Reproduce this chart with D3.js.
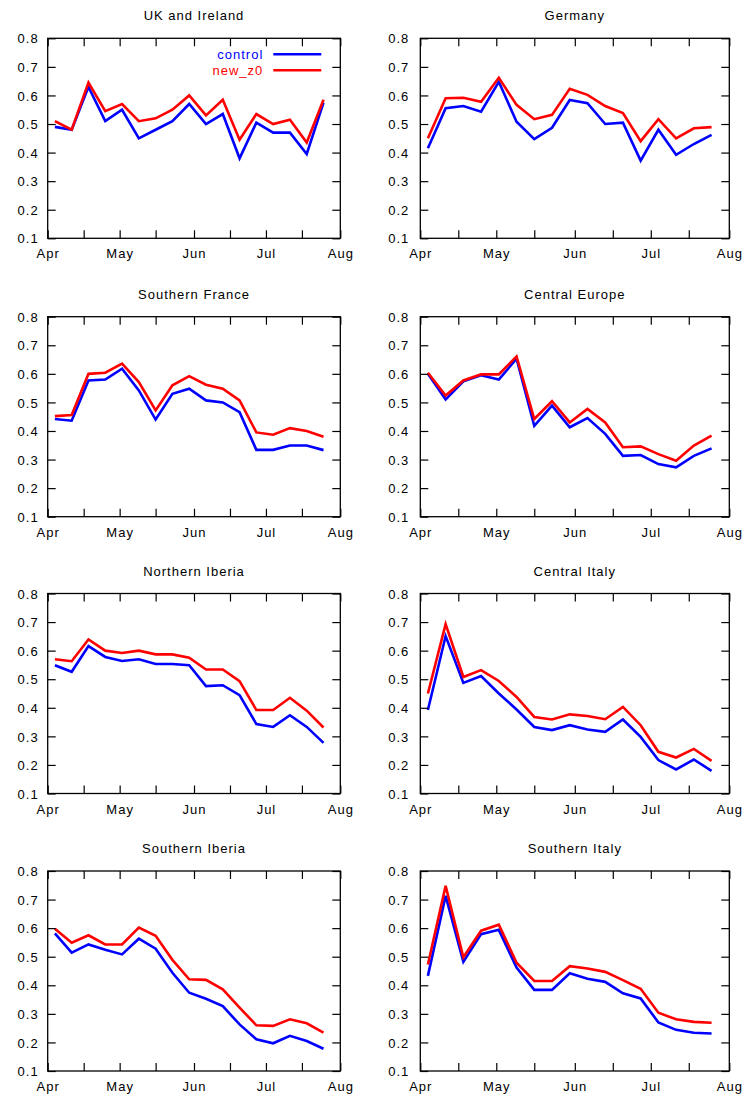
<!DOCTYPE html>
<html>
<head>
<meta charset="utf-8">
<script src="https://cdn.jsdelivr.net/npm/d3@7"></script>
<style>
  html, body { margin: 0; padding: 0; background: #fff; }
  svg text { font-family: "Liberation Sans", Arial, Helvetica, sans-serif; font-size: 13px; letter-spacing: 1px; }
</style>
</head>
<body>
<svg id="chart" width="742" height="1094"></svg>
<script>
// Weekly sample dates (month-day)
const weekDates = ["04-04","04-11","04-18","04-25","05-02","05-09","05-16","05-23","05-30",
                   "06-06","06-13","06-20","06-27","07-04","07-11","07-18","07-25"];

const yTickValues = [0.1, 0.2, 0.3, 0.4, 0.5, 0.6, 0.7, 0.8];
const monthLabels = ["Apr", "May", "Jun", "Jul", "Aug"];
const seriesNames = ["control", "new_z0"];

// Region time series
const ukControl  = [0.49,0.48,0.63,0.51,0.55,0.45,0.48,0.51,0.57,0.50,0.535,0.38,0.505,0.47,0.47,0.395,0.575];
const ukNewZ0    = [0.51,0.48,0.645,0.545,0.57,0.51,0.52,0.55,0.60,0.53,0.585,0.445,0.535,0.50,0.515,0.435,0.585];

const deControl  = [0.415,0.555,0.563,0.543,0.648,0.508,0.447,0.487,0.584,0.573,0.50,0.505,0.372,0.48,0.392,0.43,0.462];
const deNewZ0    = [0.45,0.59,0.592,0.578,0.662,0.567,0.517,0.532,0.623,0.602,0.563,0.538,0.44,0.517,0.45,0.485,0.489];

const sfControl  = [0.442,0.436,0.577,0.58,0.618,0.542,0.44,0.53,0.548,0.507,0.50,0.466,0.334,0.334,0.349,0.349,0.333];
const sfNewZ0    = [0.452,0.456,0.60,0.604,0.636,0.571,0.472,0.56,0.592,0.562,0.548,0.507,0.395,0.387,0.41,0.40,0.38];

const ceControl  = [0.60,0.51,0.574,0.595,0.58,0.653,0.418,0.489,0.413,0.445,0.39,0.313,0.316,0.284,0.273,0.313,0.339];
const ceNewZ0    = [0.604,0.524,0.577,0.598,0.598,0.661,0.442,0.504,0.43,0.477,0.43,0.343,0.346,0.319,0.296,0.349,0.384];

const niControl  = [0.549,0.526,0.616,0.578,0.564,0.57,0.553,0.553,0.549,0.476,0.479,0.444,0.343,0.333,0.374,0.333,0.277];
const niNewZ0    = [0.57,0.563,0.639,0.60,0.592,0.60,0.587,0.587,0.575,0.534,0.534,0.493,0.392,0.392,0.435,0.39,0.331];

const ciControl  = [0.392,0.651,0.487,0.511,0.45,0.394,0.333,0.322,0.339,0.324,0.316,0.359,0.298,0.217,0.184,0.219,0.179];
const ciNewZ0    = [0.45,0.693,0.508,0.532,0.494,0.438,0.368,0.359,0.377,0.371,0.36,0.403,0.339,0.246,0.226,0.256,0.214];

const siberControl = [0.582,0.514,0.543,0.524,0.508,0.563,0.528,0.444,0.374,0.353,0.327,0.263,0.211,0.197,0.223,0.205,0.178];
const siberNewZ0   = [0.598,0.549,0.575,0.543,0.543,0.602,0.573,0.489,0.421,0.419,0.386,0.322,0.26,0.258,0.281,0.267,0.234];

const sitControl = [0.433,0.713,0.482,0.579,0.594,0.462,0.384,0.384,0.442,0.423,0.412,0.372,0.354,0.27,0.244,0.234,0.231];
const sitNewZ0   = [0.473,0.748,0.498,0.591,0.612,0.479,0.415,0.415,0.467,0.459,0.447,0.418,0.388,0.304,0.281,0.272,0.269];

const regionTitles = ["UK and Ireland", "Germany", "Southern France", "Central Europe",
                      "Northern Iberia", "Central Italy", "Southern Iberia", "Southern Italy"];
const regionControl = [ukControl, deControl, sfControl, ceControl, niControl, ciControl, siberControl, sitControl];
const regionNewZ0   = [ukNewZ0, deNewZ0, sfNewZ0, ceNewZ0, niNewZ0, ciNewZ0, siberNewZ0, sitNewZ0];

// Layout
const colX = [[47.7, 340.3], [420.3, 729.3]];
const rowTop = [38.3, 316.7, 593.5, 871];
const plotH = 200;
const colors = { control: "#0000ff", new_z0: "#ff0000" };
const tickLen = 8;

const year = 2010;
const parseDate = d => new Date(Date.UTC(year, +d.slice(0, 2) - 1, +d.slice(3, 5)));
const dates = weekDates.map(parseDate);
const xStart = new Date(Date.UTC(year, 3, 1));
const xEnd = new Date(Date.UTC(year, 7, 1));
const xTickValues = [];
for (let m = 3; m <= 7; m++) {
  xTickValues.push(new Date(Date.UTC(year, m, 1)));
  if (m < 7) xTickValues.push(new Date(Date.UTC(year, m, 16)));
}
const monthFmt = d3.utcFormat("%b");

const svg = d3.select("#chart");

regionTitles.forEach((title, i) => {
  const col = i % 2, row = Math.floor(i / 2);
  const [x0, x1] = colX[col];
  const y0 = rowTop[row], y1 = y0 + plotH;

  const x = d3.scaleUtc().domain([xStart, xEnd]).range([x0, x1]);
  const y = d3.scaleLinear().domain([0.1, 0.8]).range([y1, y0]);

  const g = svg.append("g");

  // Title
  g.append("text")
    .attr("x", (x0 + x1) / 2)
    .attr("y", y0 - 18)
    .attr("text-anchor", "middle")
    .attr("fill", "#000")
    .text(title);

  // Series lines
  const line = d3.line().x((d, k) => x(dates[k])).y(d => y(d));
  [[regionControl[i], colors.control], [regionNewZ0[i], colors.new_z0]].forEach(([vals, c]) => {
    g.append("path")
      .datum(vals)
      .attr("fill", "none")
      .attr("stroke", c)
      .attr("stroke-width", 2.6)
      .attr("stroke-linejoin", "miter")
      .attr("d", line);
  });

  // Axes: inward ticks on all four sides
  const bottom = g.append("g").attr("transform", `translate(0,${y1})`)
    .call(d3.axisBottom(x).tickValues(xTickValues).tickSizeInner(-tickLen).tickSizeOuter(0)
      .tickFormat(d => d.getUTCDate() === 1 ? monthFmt(d) : ""));
  const top = g.append("g").attr("transform", `translate(0,${y0})`)
    .call(d3.axisTop(x).tickValues(xTickValues).tickSizeInner(-tickLen).tickSizeOuter(0).tickFormat(""));
  const left = g.append("g").attr("transform", `translate(${x0},0)`)
    .call(d3.axisLeft(y).tickValues(yTickValues).tickSizeInner(-tickLen).tickSizeOuter(0)
      .tickFormat(d3.format(".1f")));
  const right = g.append("g").attr("transform", `translate(${x1},0)`)
    .call(d3.axisRight(y).tickValues(yTickValues).tickSizeInner(-tickLen).tickSizeOuter(0).tickFormat(""));

  [bottom, top, left, right].forEach(a => {
    a.attr("font-size", null).attr("font-family", null);
    a.selectAll("path.domain").remove();
    a.selectAll(".tick line").attr("stroke", "#000").attr("stroke-width", 1.2);
    a.selectAll(".tick text").attr("fill", "#000");
  });
  bottom.selectAll(".tick text").attr("dy", null).attr("y", 20);
  left.selectAll(".tick text").attr("x", col === 0 ? -9 : -11).attr("dy", "0.36em");

  // Frame
  g.append("rect")
    .attr("x", x0).attr("y", y0)
    .attr("width", x1 - x0).attr("height", plotH)
    .attr("fill", "none").attr("stroke", "#000").attr("stroke-width", 1.3);

  // Legend (first panel only)
  if (i === 0) {
    seriesNames.forEach((name, k) => {
      const ly = y0 + 16 + k * 16;
      g.append("text")
        .attr("x", x1 - 77)
        .attr("y", ly)
        .attr("dy", "0.36em")
        .attr("text-anchor", "end")
        .attr("fill", colors[name])
        .text(name);
      g.append("line")
        .attr("x1", x1 - 67).attr("x2", x1 - 19)
        .attr("y1", ly).attr("y2", ly)
        .attr("stroke", colors[name])
        .attr("stroke-width", 2.6);
    });
  }
});
</script>
</body>
</html>
